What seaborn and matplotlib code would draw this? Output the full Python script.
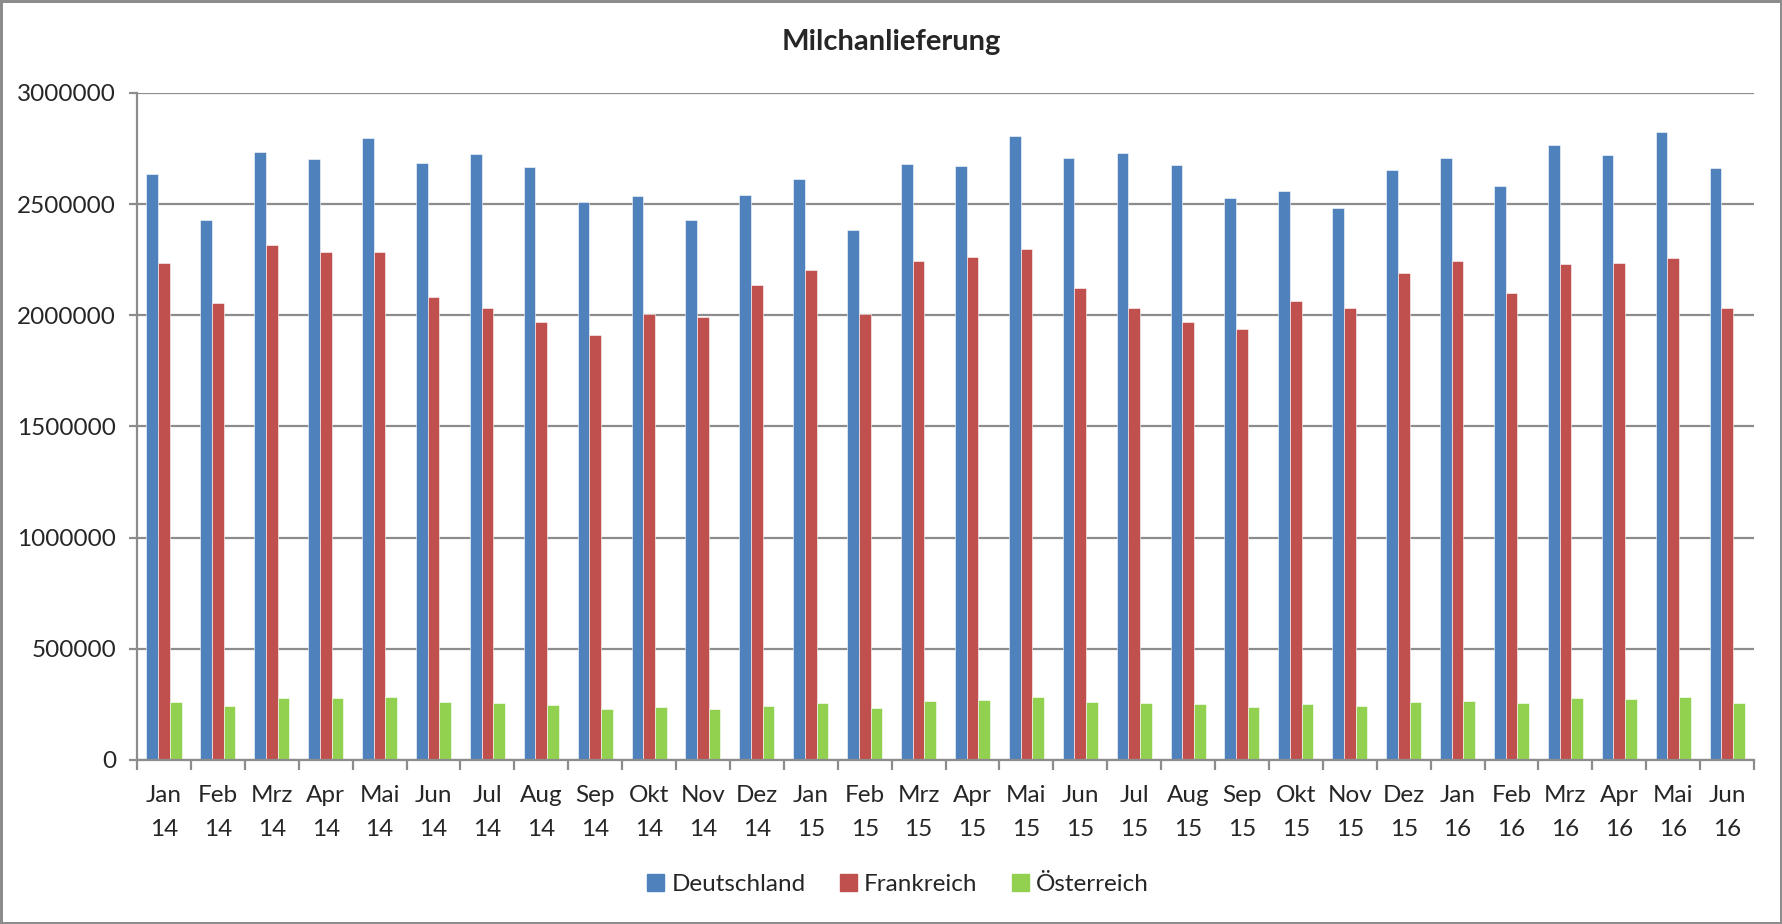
import numpy as np
import pandas as pd
import matplotlib.pyplot as plt
import seaborn as sns

# Milk deliveries per month
months = ["Jan\n14", "Feb\n14", "Mrz\n14", "Apr\n14", "Mai\n14", "Jun\n14",
          "Jul\n14", "Aug\n14", "Sep\n14", "Okt\n14", "Nov\n14", "Dez\n14",
          "Jan\n15", "Feb\n15", "Mrz\n15", "Apr\n15", "Mai\n15", "Jun\n15",
          "Jul\n15", "Aug\n15", "Sep\n15", "Okt\n15", "Nov\n15", "Dez\n15",
          "Jan\n16", "Feb\n16", "Mrz\n16", "Apr\n16", "Mai\n16", "Jun\n16"]

deutschland = [2637000, 2429000, 2735000, 2703000, 2796000, 2685000,
               2724000, 2666000, 2508000, 2537000, 2429000, 2541000,
               2612000, 2384000, 2681000, 2670000, 2808000, 2706000,
               2730000, 2676000, 2526000, 2559000, 2483000, 2654000,
               2706000, 2580000, 2767000, 2723000, 2826000, 2661000]

frankreich = [2234000, 2056000, 2317000, 2285000, 2284000, 2083000,
              2032000, 1972000, 1911000, 2007000, 1993000, 2137000,
              2203000, 2007000, 2245000, 2264000, 2300000, 2125000,
              2032000, 1972000, 1938000, 2066000, 2034000, 2191000,
              2242000, 2102000, 2230000, 2237000, 2258000, 2031000]

oesterreich = [262000, 245000, 278000, 278000, 285000, 260000,
               258000, 246000, 231000, 239000, 231000, 245000,
               255000, 236000, 265000, 268000, 283000, 261000,
               258000, 252000, 240000, 250000, 241000, 261000,
               265000, 256000, 279000, 276000, 283000, 255000]

countries = ["Deutschland", "Frankreich", "Österreich"]
colors = ["#4F81BD", "#C0504D", "#92D050"]
y_ticks = [0, 500000, 1000000, 1500000, 2000000, 2500000, 3000000]

df = pd.DataFrame({"Monat": months * 3,
                   "Menge": deutschland + frankreich + oesterreich,
                   "Land": np.repeat(countries, len(months))})

sns.set_style("white")
plt.rcParams['font.family'] = ['Lato', 'DejaVu Sans']

fig = plt.figure(figsize=(17.82, 9.24), dpi=100)
fig.patch.set_edgecolor("#8c8c8c")
fig.patch.set_linewidth(2.5)
ax = fig.add_axes([0.0769, 0.1775, 0.9074, 0.7219])

sns.barplot(data=df, x="Monat", y="Menge", hue="Land", palette=colors,
            width=0.65, saturation=1, edgecolor="white", linewidth=0.4, ax=ax)

# grid and axes
ax.set_ylim(0, 3000000)
ax.set_xlim(-0.5, len(months) - 0.5)
ax.set_yticks(y_ticks)
ax.set_yticklabels([str(v) for v in y_ticks])
ax.yaxis.grid(True, color="#8c8c8c", linewidth=1.6)
ax.set_axisbelow(True)
for side in ["top", "right"]:
    ax.spines[side].set_visible(False)
ax.spines["left"].set_color("#8c8c8c")
ax.spines["left"].set_linewidth(1.6)
ax.spines["bottom"].set_color("#8c8c8c")
ax.spines["bottom"].set_linewidth(1.6)

ax.set_xticks(np.arange(-0.5, len(months), 1), minor=True)
ax.tick_params(axis="x", which="major", length=0, pad=18, labelsize=17.5)
ax.tick_params(axis="x", which="minor", length=7, width=1.6, color="#8c8c8c",
               direction="out", bottom=True)
ax.tick_params(axis="y", length=6, width=1.6, color="#8c8c8c", left=True,
               pad=9, labelsize=17.5)
for lbl in ax.get_xticklabels():
    lbl.set_linespacing(1.78)

ax.set_xlabel("")
ax.set_ylabel("")

fig.suptitle("Milchanlieferung", y=0.955, va="center", fontsize=21,
             fontweight="bold")

ax.legend_.remove()
handles = [plt.Rectangle((0, 0), 1, 1, color=c) for c in colors]
fig.legend(handles, countries, loc="center", bbox_to_anchor=(0.504, 0.043),
           ncol=3, frameon=False, fontsize=17.5, handlelength=0.7,
           handleheight=0.7, handletextpad=0.3, columnspacing=1.4)

plt.savefig("out.png", dpi=100)
